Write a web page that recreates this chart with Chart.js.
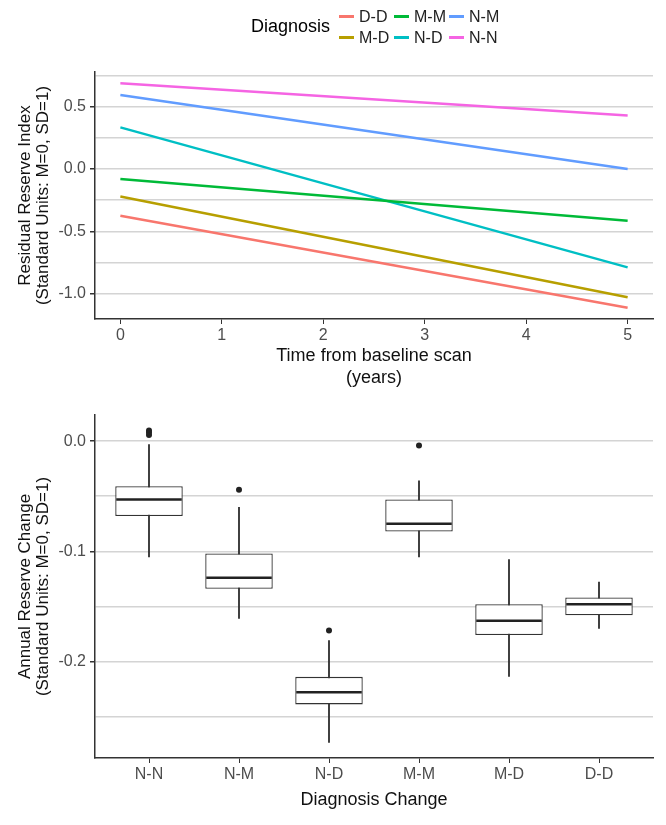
<!DOCTYPE html>
<html>
<head>
<meta charset="utf-8">
<script src="https://cdn.jsdelivr.net/npm/chart.js@4.4.1/dist/chart.umd.min.js"></script>
<style>
  html, body { margin: 0; padding: 0; background: #fff; }
  #wrap { position: relative; width: 666px; height: 825px; overflow: hidden; font-family: 'Liberation Sans', Arial, sans-serif; }
  #top { position: absolute; left: 0; top: 0; }
  #bottom { position: absolute; left: 0; top: 400px; }
  #legend { position: absolute; left: 251px; top: 5px; height: 44px; }
  #legend .ttl { position: absolute; left: 0; top: 11px; font-size: 18px; color: #000; white-space: nowrap; }
  #legend .item { position: absolute; font-size: 16px; color: #222; white-space: nowrap; line-height: 18px; }
  #legend .key { display: inline-block; width: 15px; height: 3px; vertical-align: middle; margin-right: 5px; position: relative; top: -1px; }
</style>
</head>
<body>
<div id="wrap">
  <canvas id="top" width="666" height="400"></canvas>
  <canvas id="bottom" width="666" height="425"></canvas>
  <div id="legend"></div>
</div>
<script>
// ---- top panel: fitted trajectories per diagnosis group ----
const grupos = ['D-D', 'M-D', 'M-M', 'N-D', 'N-M', 'N-N'];
const coresGrupos = ['#F8766D', '#B79F00', '#00BA38', '#00BFC4', '#619CFF', '#F564E3'];
const anos = [0, 5];
const inicio = [-0.375, -0.22, -0.08, 0.335, 0.595, 0.69];   // valor no ano 0
const fim = [-1.115, -1.03, -0.415, -0.79, 0.0, 0.43];        // valor no ano 5
const ticksTopoY = [-1.0, -0.5, 0.0, 0.5];

// ---- bottom panel: annual reserve change boxplots ----
const categorias = ['N-N', 'N-M', 'N-D', 'M-M', 'M-D', 'D-D'];
const bigodeInf = [-0.105, -0.161, -0.2735, -0.105, -0.2135, -0.170];
const q1 = [-0.068, -0.134, -0.239, -0.082, -0.176, -0.158];
const mediana = [-0.053, -0.124, -0.228, -0.075, -0.163, -0.148];
const q3 = [-0.041, -0.102, -0.214, -0.053, -0.148, -0.142];
const bigodeSup = [-0.003, -0.060, -0.181, -0.036, -0.1075, -0.128];
const outlierCat = ['N-N', 'N-N', 'N-N', 'N-M', 'N-D', 'M-M'];
const outlierVal = [0.0096, 0.0078, 0.0057, -0.044, -0.172, -0.004];

const FONTE = "'Liberation Sans', Arial, sans-serif";
const CINZA_GRADE = '#d4d4d4';
const EIXO = '#333333';

Chart.defaults.font.family = FONTE;
Chart.defaults.animation = false;

function legendaHtml() {
    const el = document.getElementById('legend');
    el.innerHTML = '<div class="ttl">Diagnosis</div>';
    // ggplot preenche por coluna: 2 linhas x 3 colunas
    grupos.forEach((g, i) => {
        const col = Math.floor(i / 2);
        const lin = i % 2;
        const item = document.createElement('div');
        item.className = 'item';
        item.style.left = (88 + col * 55) + 'px';
        item.style.top = (3 + lin * 21) + 'px';
        item.innerHTML = `<span class="key" style="background:${coresGrupos[i]}"></span>${g}`;
        el.appendChild(item);
    });
}

function faixaExpandida(valores, frac) {
    const mn = Math.min(...valores), mx = Math.max(...valores);
    const d = (mx - mn) * frac;
    return { min: mn - d, max: mx + d };
}

function graficoTopo() {
    const faixa = faixaExpandida(inicio.concat(fim), 0.05);
    const ctx = document.getElementById('top').getContext('2d');
    new Chart(ctx, {
        type: 'line',
        data: {
            datasets: grupos.map((g, i) => ({
                label: g,
                data: anos.map((a, k) => ({ x: a, y: k === 0 ? inicio[i] : fim[i] })),
                borderColor: coresGrupos[i],
                borderWidth: 2.5,
                pointRadius: 0,
                fill: false
            }))
        },
        options: {
            responsive: false,
            layout: { padding: { top: 72, right: 13, left: 0, bottom: 0 } },
            plugins: { legend: { display: false }, tooltip: { enabled: false } },
            scales: {
                x: {
                    type: 'linear',
                    min: -0.25, max: 5.25,
                    afterFit: s => { s.height = 81; },
                    ticks: { stepSize: 1, includeBounds: false, color: '#4d4d4d', font: { size: 16 }, padding: 2 },
                    grid: { drawOnChartArea: false, drawTicks: true, tickLength: 5, tickColor: EIXO },
                    border: { display: true, color: EIXO, width: 1.5 },
                    title: {
                        display: true,
                        text: ['Time from baseline scan', '(years)'],
                        color: '#111',
                        font: { size: 18, lineHeight: 1.22 },
                        padding: { top: 0, bottom: 11 }
                    }
                },
                y: {
                    min: faixa.min, max: faixa.max,
                    afterFit: s => { s.width = 95; },
                    ticks: {
                        stepSize: 0.25, includeBounds: false, color: '#4d4d4d', font: { size: 16 }, padding: 4,
                        callback: v => ticksTopoY.some(t => Math.abs(t - v) < 1e-6) ? v.toFixed(1) : ''
                    },
                    grid: {
                        color: CINZA_GRADE, lineWidth: 1.5, tickLength: 5,
                        tickColor: c => ticksTopoY.some(t => Math.abs(t - c.tick.value) < 1e-6) ? EIXO : 'rgba(0,0,0,0)'
                    },
                    border: { display: true, color: EIXO, width: 1.5 },
                    title: {
                        display: true,
                        text: ['Residual Reserve Index', '(Standard Units: M=0, SD=1)'],
                        color: '#111',
                        font: { size: 17, lineHeight: 1.08 },
                        padding: { top: 16, bottom: 0 }
                    }
                }
            }
        }
    });
}

// desenha a linha da mediana sobre cada caixa
const pluginMediana = {
    id: 'mediana',
    afterDatasetsDraw(chart) {
        const meta = chart.getDatasetMeta(0);
        const y = chart.scales.y;
        const ctx = chart.ctx;
        ctx.save();
        ctx.strokeStyle = '#222';
        ctx.lineWidth = 2.6;
        meta.data.forEach((bar, i) => {
            const py = y.getPixelForValue(mediana[i]);
            ctx.beginPath();
            ctx.moveTo(bar.x - bar.width / 2 + 1, py);
            ctx.lineTo(bar.x + bar.width / 2 - 1, py);
            ctx.stroke();
        });
        ctx.restore();
    }
};

function graficoBoxplot() {
    const todos = bigodeInf.concat(bigodeSup, outlierVal);
    const faixa = faixaExpandida(todos, 0.05);
    const ctx = document.getElementById('bottom').getContext('2d');
    new Chart(ctx, {
        type: 'bar',
        data: {
            datasets: [
                {
                    label: 'caixa',
                    data: categorias.map((c, i) => ({ x: i + 1, y: [q1[i], q3[i]] })),
                    backgroundColor: '#ffffff',
                    borderColor: EIXO,
                    borderWidth: 1.3,
                    borderSkipped: false,
                    grouped: false,
                    barPercentage: 0.75,
                    categoryPercentage: 1,
                    order: 1
                },
                {
                    label: 'bigode',
                    data: categorias.map((c, i) => ({ x: i + 1, y: [bigodeInf[i], bigodeSup[i]] })),
                    backgroundColor: EIXO,
                    barThickness: 1.2,
                    grouped: false,
                    order: 2
                },
                {
                    type: 'line',
                    label: 'outliers',
                    data: outlierCat.map((c, i) => ({ x: categorias.indexOf(c) + 1, y: outlierVal[i] })),
                    showLine: false,
                    pointRadius: 3,
                    pointBackgroundColor: '#222',
                    pointBorderWidth: 0,
                    order: 0
                }
            ]
        },
        options: {
            responsive: false,
            layout: { padding: { top: 15, right: 13, left: 0, bottom: 0 } },
            plugins: { legend: { display: false }, tooltip: { enabled: false } },
            scales: {
                x: {
                    type: 'linear',
                    min: 0.4, max: 6.6,
                    afterFit: s => { s.height = 67; },
                    ticks: {
                        stepSize: 1, includeBounds: false, color: '#4d4d4d', font: { size: 16 }, padding: 2,
                        callback: v => categorias[v - 1] || ''
                    },
                    grid: { drawOnChartArea: false, drawTicks: true, tickLength: 5, tickColor: EIXO, offset: false },
                    offset: false,
                    border: { display: true, color: EIXO, width: 1.5 },
                    title: {
                        display: true,
                        text: 'Diagnosis Change',
                        color: '#111',
                        font: { size: 18, lineHeight: 1.22 },
                        padding: { top: 0, bottom: 14 }
                    }
                },
                y: {
                    min: faixa.min, max: faixa.max,
                    afterFit: s => { s.width = 95; },
                    ticks: {
                        stepSize: 0.05, includeBounds: false, color: '#4d4d4d', font: { size: 16 }, padding: 4,
                        callback: v => Math.abs(Math.round(v * 10) - v * 10) < 1e-6 ? v.toFixed(1) : ''
                    },
                    grid: {
                        color: CINZA_GRADE, lineWidth: 1.5, tickLength: 5,
                        tickColor: c => Math.abs(Math.round(c.tick.value * 10) - c.tick.value * 10) < 1e-6 ? EIXO : 'rgba(0,0,0,0)'
                    },
                    border: { display: true, color: EIXO, width: 1.5 },
                    title: {
                        display: true,
                        text: ['Annual Reserve Change', '(Standard Units: M=0, SD=1)'],
                        color: '#111',
                        font: { size: 17, lineHeight: 1.08 },
                        padding: { top: 16, bottom: 0 }
                    }
                }
            }
        },
        plugins: [pluginMediana]
    });
}

legendaHtml();
graficoTopo();
graficoBoxplot();
</script>
</body>
</html>
